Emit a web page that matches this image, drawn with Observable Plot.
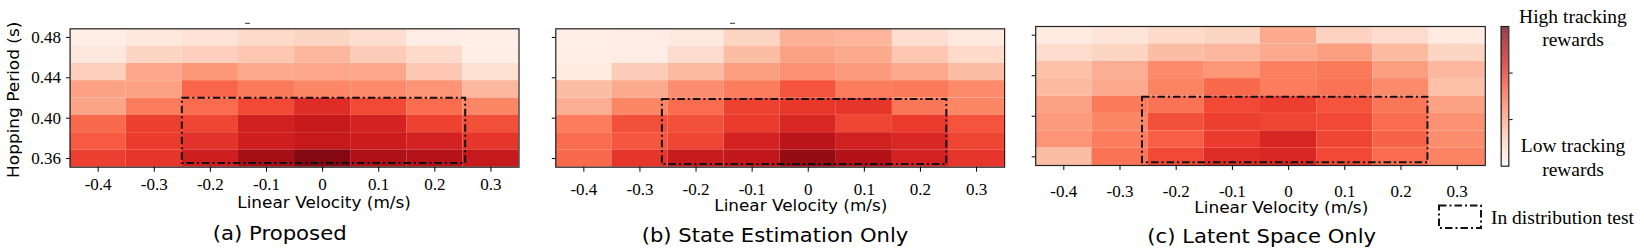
<!DOCTYPE html>
<html><head><meta charset="utf-8">
<script src="https://cdn.jsdelivr.net/npm/d3@7"></script>
<script src="https://cdn.jsdelivr.net/npm/@observablehq/plot@0.6"></script>
<style>
html,body{margin:0;padding:0;background:#fff;}
#fig{position:relative;width:1644px;height:252px;overflow:hidden;}
#fig > svg{position:absolute;top:0;}
#fig svg.panel text{font-family:"Liberation Serif","Times New Roman",serif !important;font-size:17px !important;fill:#000 !important;}
</style></head><body><div id="fig"></div>
<script>
// ---------- data ----------
const velocities = [-0.4, -0.3, -0.2, -0.1, 0, 0.1, 0.2, 0.3];
const periods = [0.48, 0.4629, 0.4457, 0.4286, 0.4114, 0.3943, 0.3771, 0.36]; // rows, top to bottom
const periodTicks = [0.36, 0.40, 0.44, 0.48];
// normalised tracking reward (0 = low, 1 = high), rows follow `periods`
const rewardsProposed = [
  [0.04, 0.08, 0.10, 0.14, 0.16, 0.12, 0.05, 0.04],
  [0.08, 0.16, 0.18, 0.21, 0.26, 0.19, 0.14, 0.04],
  [0.18, 0.31, 0.36, 0.30, 0.31, 0.31, 0.21, 0.11],
  [0.33, 0.33, 0.51, 0.45, 0.41, 0.40, 0.37, 0.26],
  [0.32, 0.44, 0.49, 0.59, 0.68, 0.59, 0.49, 0.41],
  [0.50, 0.62, 0.60, 0.73, 0.77, 0.72, 0.61, 0.57],
  [0.54, 0.63, 0.66, 0.74, 0.77, 0.75, 0.72, 0.65],
  [0.62, 0.65, 0.74, 0.86, 0.94, 0.84, 0.82, 0.77]
];
const rewardsStateEstimation = [
  [0.04, 0.05, 0.07, 0.16, 0.28, 0.27, 0.12, 0.07],
  [0.04, 0.05, 0.13, 0.24, 0.33, 0.30, 0.21, 0.14],
  [0.06, 0.19, 0.25, 0.34, 0.38, 0.35, 0.30, 0.24],
  [0.24, 0.30, 0.39, 0.44, 0.56, 0.44, 0.45, 0.40],
  [0.29, 0.41, 0.49, 0.61, 0.64, 0.65, 0.46, 0.41],
  [0.44, 0.57, 0.57, 0.63, 0.70, 0.60, 0.63, 0.56],
  [0.49, 0.55, 0.60, 0.72, 0.80, 0.73, 0.70, 0.60],
  [0.50, 0.65, 0.76, 0.78, 0.90, 0.83, 0.72, 0.65]
];
const rewardsLatentSpace = [
  [0.06, 0.09, 0.14, 0.16, 0.30, 0.17, 0.13, 0.06],
  [0.13, 0.16, 0.24, 0.26, 0.30, 0.34, 0.25, 0.16],
  [0.23, 0.29, 0.40, 0.36, 0.43, 0.45, 0.34, 0.26],
  [0.25, 0.30, 0.42, 0.50, 0.44, 0.47, 0.40, 0.23],
  [0.33, 0.45, 0.47, 0.59, 0.62, 0.56, 0.46, 0.33],
  [0.35, 0.41, 0.57, 0.62, 0.60, 0.59, 0.49, 0.38],
  [0.37, 0.44, 0.53, 0.63, 0.71, 0.60, 0.52, 0.39],
  [0.24, 0.47, 0.59, 0.68, 0.70, 0.59, 0.49, 0.42]
];
// in-distribution test region (velocity, period) per panel
const inDistProposed = {x1: -0.25, x2: 0.255, y1: 0.355, y2: 0.4198};
const inDistStateEstimation = {x1: -0.26, x2: 0.247, y1: 0.354, y2: 0.4186};
const inDistLatentSpace = {x1: -0.26, x2: 0.248, y1: 0.3541, y2: 0.4188};
const panelTitles = ["(a) Proposed", "(b) State Estimation Only", "(c) Latent Space Only"];
const xLabel = "Linear Velocity (m/s)";
const yLabel = "Hopping Period (s)";
const colorbarTicks = [1/3, 2/3];
const colorbarHigh = ["High tracking", "rewards"];
const colorbarLow = ["Low tracking", "rewards"];
const legendLabel = "In distribution test";

// ---------- layout ----------
const H = 252;
const serif = "Liberation Serif";
const sans = "DejaVu Sans";
const color = {type: "linear", scheme: "reds", domain: [0, 1]};
const dash = "7.5,3,2,3";
const fig = document.getElementById("fig");

const layouts = [
  {left: 0,    w: 530, ml: 69.6, fw: 448.9, top: 28.3, bottom: 166.7, xpad: 6.2, ylab: true,
   xt: {cx: 324.1, by: 208.3, len: 173.7}, cap: {cx: 279.7, by: 240, len: 134}},
  {left: 530,  w: 490, ml: 25.3, fw: 448.8, top: 28.3, bottom: 166.7, xpad: 10.5, ylab: false,
   xt: {cx: 800.8, by: 210.7, len: 173}, cap: {cx: 775, by: 241.7, len: 266.6}},
  {left: 1020, w: 480, ml: 15.2, fw: 449.6, top: 26, bottom: 165, xpad: 14.6, ylab: false,
   xt: {cx: 1281.3, by: 213.3, len: 174}, cap: {cx: 1261.7, by: 243.3, len: 228.7}}
];
const panelData = [
  [rewardsProposed, inDistProposed],
  [rewardsStateEstimation, inDistStateEstimation],
  [rewardsLatentSpace, inDistLatentSpace]
];

const dv = velocities[1] - velocities[0];
const dp = (periods[0] - periods[periods.length - 1]) / (periods.length - 1);

panelData.forEach(([values, box], k) => {
  const L = layouts[k];
  const cells = [];
  periods.forEach((p, i) => velocities.forEach((v, j) => cells.push({v, p, r: values[i][j]})));
  const marks = [
    Plot.rect(cells, {x1: d => d.v - dv / 2, x2: d => d.v + dv / 2, y1: d => d.p - dp / 2, y2: d => d.p + dp / 2, fill: "r"}),
    Plot.rect([box], {x1: "x1", x2: "x2", y1: "y1", y2: "y2", fill: "none", stroke: "#111", strokeWidth: 2, strokeDasharray: dash}),
    Plot.frame({stroke: "#222", strokeWidth: 1.2}),
    Plot.axisX({ticks: velocities, tickFormat: d => String(d), tickSize: 5, tickPadding: L.xpad, label: null,
      fontFamily: serif, fontSize: 17, fill: "#000"}),
    L.ylab
      ? Plot.axisY({ticks: periodTicks, tickFormat: d3.format(".2f"), tickSize: 3.5, tickPadding: 5.5, label: null,
          fontFamily: serif, fontSize: 17, fill: "#000"})
      : Plot.axisY({ticks: periodTicks, tickSize: 3.5, tickFormat: () => null, label: null})
  ];
  const svg = Plot.plot({
    width: L.w, height: H,
    marginLeft: L.ml, marginRight: L.w - L.ml - L.fw,
    marginTop: L.top, marginBottom: H - L.bottom,
    x: {domain: [velocities[0] - dv / 2, velocities[velocities.length - 1] + dv / 2]},
    y: {domain: [periods[periods.length - 1] - dp / 2, periods[0] + dp / 2]},
    color,
    style: {fontFamily: serif, fontSize: "17px", color: "#000", background: "transparent", overflow: "visible"},
    marks
  });
  svg.classList.add("panel");
  svg.style.left = L.left + "px";
  fig.appendChild(svg);
});

// colour bar
const ramp = d3.range(0, 1, 1 / 256);
const cb = Plot.plot({
  width: 40, height: H, marginLeft: 10.7, marginRight: 21.7, marginTop: 26, marginBottom: H - 165.7,
  x: {domain: [0, 1], axis: null},
  y: {domain: [0, 1]},
  color,
  style: {background: "transparent", overflow: "visible", color: "#000"},
  marks: [
    Plot.rect(ramp, {x1: 0, x2: 1, y1: d => d, y2: d => d + 1 / 256, fill: d => d + 0.5 / 256}),
    Plot.frame({stroke: "#222", strokeWidth: 1.2}),
    Plot.axisY({anchor: "right", ticks: colorbarTicks, tickSize: 3.3, tickFormat: () => null, label: null})
  ]
});
cb.style.left = "1490px";
fig.appendChild(cb);

// overlay text
const ov = d3.select(fig).append("svg").attr("width", 1644).attr("height", H).style("left", "0px");
const txt = (x, y, s, font, size, anchor = "middle", len = null) => {
  const t = ov.append("text").attr("x", x).attr("y", y).attr("font-family", font).attr("font-size", size)
    .attr("text-anchor", anchor).attr("fill", "#000").text(s);
  if (len) t.attr("textLength", len).attr("lengthAdjust", "spacingAndGlyphs");
  return t;
};

ov.append("text").attr("transform", "translate(19,99.8) rotate(-90)").attr("text-anchor", "middle")
  .attr("font-family", sans).attr("font-size", 16).attr("fill", "#000")
  .attr("textLength", 156.3).attr("lengthAdjust", "spacingAndGlyphs").text(yLabel);
layouts.forEach((L, k) => {
  txt(L.xt.cx, L.xt.by, xLabel, sans, 16.6, "middle", L.xt.len);
  txt(L.cap.cx, L.cap.by, panelTitles[k], sans, 20, "middle", L.cap.len);
});
txt(1573, 23.3, colorbarHigh[0], serif, 19.5);
txt(1573, 46, colorbarHigh[1], serif, 19.5);
txt(1573, 152.3, colorbarLow[0], serif, 19.5);
txt(1573, 175.7, colorbarLow[1], serif, 19.5);
ov.append("rect").attr("x", 1439).attr("y", 205.5).attr("width", 42).attr("height", 22.5)
  .attr("fill", "none").attr("stroke", "#111").attr("stroke-width", 2).attr("stroke-dasharray", dash);
txt(1491, 224, legendLabel, serif, 19.5, "start");
// small stray marks above panels (a) and (b)
ov.append("line").attr("x1", 245).attr("x2", 250).attr("y1", 23.3).attr("y2", 23.3).attr("stroke", "#333").attr("stroke-width", 1);
ov.append("line").attr("x1", 730).attr("x2", 735).attr("y1", 23.3).attr("y2", 23.3).attr("stroke", "#333").attr("stroke-width", 1);
</script>
</body></html>
